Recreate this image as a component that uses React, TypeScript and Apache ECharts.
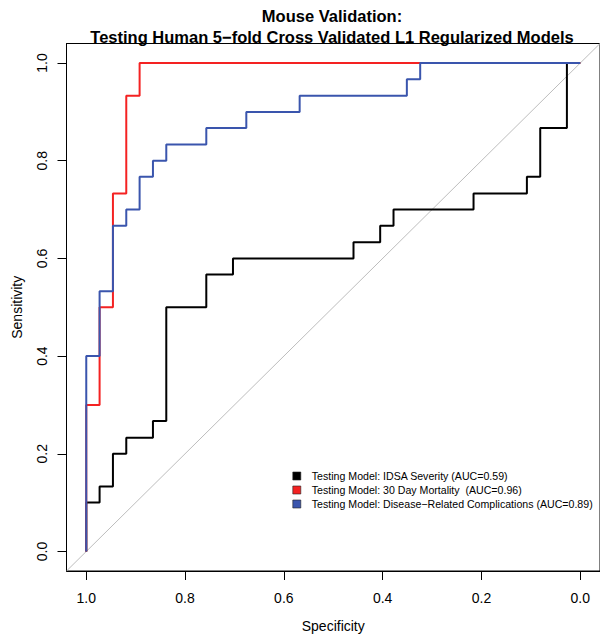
import React, { useEffect, useRef } from "react";
import * as echarts from "echarts";

const titleLines = ["Mouse Validation:", "Testing Human 5\u2212fold Cross Validated L1 Regularized Models"];
const xAxisTitle = "Specificity";
const yAxisTitle = "Sensitivity";
const tickValues = [0, 0.2, 0.4, 0.6, 0.8, 1.0];

const seriesNames = [
  "Testing Model: IDSA Severity (AUC=0.59)",
  "Testing Model: 30 Day Mortality\u00a0 (AUC=0.96)",
  "Testing Model: Disease\u2212Related Complications (AUC=0.89)",
];
const seriesColors = ["#000000", "#f42222", "#3a55ad"];

// IDSA Severity ROC vertices
const idsaSpec = [1, 1, 0.973, 0.973, 0.946, 0.946, 0.919, 0.919, 0.865, 0.865, 0.838, 0.838, 0.757, 0.757, 0.703, 0.703, 0.459, 0.459, 0.405, 0.405, 0.378, 0.378, 0.216, 0.216, 0.108, 0.108, 0.081, 0.081, 0.027, 0.027, 0];
const idsaSens = [0, 0.1, 0.1, 0.133, 0.133, 0.2, 0.2, 0.233, 0.233, 0.267, 0.267, 0.5, 0.5, 0.567, 0.567, 0.6, 0.6, 0.633, 0.633, 0.667, 0.667, 0.7, 0.7, 0.733, 0.733, 0.767, 0.767, 0.867, 0.867, 1, 1];

// 30 Day Mortality ROC vertices
const mortSpec = [1, 1, 0.973, 0.973, 0.946, 0.946, 0.919, 0.919, 0.892, 0.892, 0];
const mortSens = [0, 0.3, 0.3, 0.5, 0.5, 0.733, 0.733, 0.933, 0.933, 1, 1];

// Disease-Related Complications ROC vertices
const compSpec = [1, 1, 0.973, 0.973, 0.946, 0.946, 0.919, 0.919, 0.892, 0.892, 0.865, 0.865, 0.838, 0.838, 0.757, 0.757, 0.676, 0.676, 0.568, 0.568, 0.351, 0.351, 0.324, 0.324, 0];
const compSens = [0, 0.4, 0.4, 0.533, 0.533, 0.667, 0.667, 0.7, 0.7, 0.767, 0.767, 0.8, 0.8, 0.833, 0.833, 0.867, 0.867, 0.9, 0.9, 0.933, 0.933, 0.967, 0.967, 1, 1];

const axisMin = -0.04;
const axisMax = 1.04;

const zip = (xs: number[], ys: number[]) => xs.map((x, i) => [x, ys[i]]);

export default function App() {
  const ref = useRef<HTMLDivElement>(null);
  useEffect(() => {
    document.body.style.margin = "0";
    if (!ref.current) return;
    const chart = echarts.init(ref.current, null, { renderer: "svg" });
    const font = "Liberation Sans, Arial, Helvetica, sans-serif";
    const curves = [zip(idsaSpec, idsaSens), zip(mortSpec, mortSens), zip(compSpec, compSens)];
    chart.setOption({
      animation: false,
      backgroundColor: "#ffffff",
      textStyle: { fontFamily: font },
      title: {
        text: titleLines.join("\n"),
        left: 332,
        top: 5,
        padding: 0,
        textAlign: "center",
        textStyle: { fontFamily: font, fontSize: 16.5, fontWeight: "bold", color: "#000", lineHeight: 21 },
      },
      grid: {
        left: 66.5,
        top: 43.5,
        width: 535,
        height: 534,
        show: true,
        borderColor: "#000",
        borderWidth: 1,
        containLabel: false,
      },
      legend: {
        orient: "vertical",
        left: 292.5,
        top: 469,
        width: 310,
        padding: 0,
        itemGap: 0,
        itemWidth: 8,
        itemHeight: 8,
        icon: "rect",
        data: seriesNames.map((n, i) => ({
          name: n,
          itemStyle: { color: seriesColors[i], borderColor: "#222", borderWidth: 0.6 },
        })),
        textStyle: { fontFamily: font, fontSize: 10.6, color: "#000", lineHeight: 14, padding: [0, 0, 0, 6], overflow: "none" },
        selectedMode: false,
      },
      xAxis: {
        type: "value",
        inverse: true,
        min: axisMin,
        max: axisMax,
        name: xAxisTitle,
        nameLocation: "middle",
        nameGap: 48,
        nameTextStyle: { fontFamily: font, fontSize: 14, color: "#000" },
        axisLine: { show: true, onZero: false, lineStyle: { color: "#000", width: 1 } },
        axisTick: { show: true, length: 9, customValues: tickValues, lineStyle: { color: "#000", width: 1 } },
        axisLabel: {
          customValues: tickValues,
          margin: 20,
          fontFamily: font,
          fontSize: 14,
          color: "#000",
          formatter: (v: number) => v.toFixed(1),
        },
        splitLine: { show: false },
      },
      yAxis: {
        type: "value",
        min: axisMin,
        max: axisMax,
        name: yAxisTitle,
        nameLocation: "middle",
        nameGap: 43,
        nameTextStyle: { fontFamily: font, fontSize: 14, color: "#000" },
        axisLine: { show: true, onZero: false, lineStyle: { color: "#000", width: 1 } },
        axisTick: { show: true, length: 9, customValues: tickValues, lineStyle: { color: "#000", width: 1 } },
        axisLabel: {
          customValues: tickValues,
          rotate: 90,
          margin: 18,
          fontFamily: font,
          fontSize: 14,
          color: "#000",
          formatter: (v: number) => v.toFixed(1),
        },
        splitLine: { show: false },
      },
      series: [
        {
          type: "line",
          name: "diagonal",
          data: [[axisMax, axisMin], [axisMin, axisMax]],
          symbol: "none",
          silent: true,
          lineStyle: { color: "#bdbdbd", width: 1 },
          z: 1,
        },
        ...curves.map((d, i) => ({
          type: "line",
          name: seriesNames[i],
          data: d,
          symbol: "none",
          showSymbol: false,
          color: seriesColors[i],
          lineStyle: { color: seriesColors[i], width: 2 },
          z: 2 + i,
        })),
      ],
    });
    return () => chart.dispose();
  }, []);
  return <div ref={ref} style={{ width: 600, height: 638 }} />;
}
